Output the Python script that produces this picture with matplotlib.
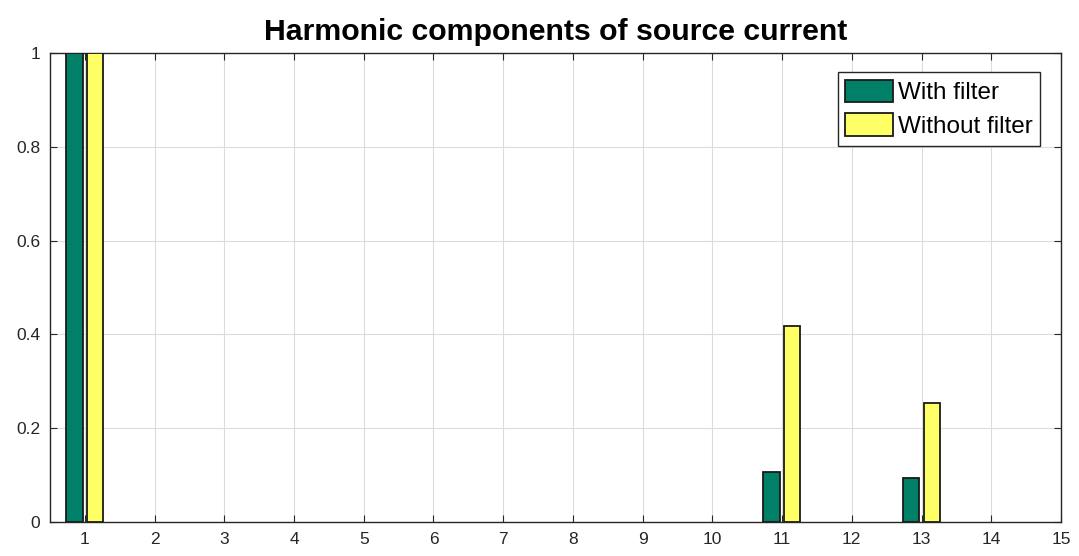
import numpy as np
import matplotlib.pyplot as plt

plt.rcParams["font.family"] = ["Liberation Sans", "DejaVu Sans"]

orders = np.arange(1, 16)
withFilter = [1.0, 0, 0, 0, 0, 0, 0, 0, 0, 0, 0.107, 0, 0.094, 0, 0]
withoutFilter = [1.0, 0, 0, 0, 0, 0, 0, 0, 0, 0, 0.418, 0, 0.253, 0, 0]
yticks = [0, 0.2, 0.4, 0.6, 0.8, 1]
yticklabels = ["0", "0.2", "0.4", "0.6", "0.8", "1"]


def plotDraw():
    fig = plt.figure(figsize=(10.79, 5.56), dpi=100)
    ax = fig.add_axes([0.0463, 0.0612, 0.937, 0.8435])

    # zero-height bars are not drawn (MATLAB shows nothing there)
    wf = np.array(withFilter, dtype=float)
    wof = np.array(withoutFilter, dtype=float)
    wf[wf == 0] = np.nan
    wof[wof == 0] = np.nan

    ax.bar(orders - 0.15, wf, width=0.235, color="#008066",
           edgecolor="#1a1a1a", linewidth=1.3, label="With filter", zorder=3)
    ax.bar(orders + 0.145, wof, width=0.23, color="#ffff66",
           edgecolor="#1a1a1a", linewidth=1.3, label="Without filter", zorder=3)

    ax.set_xlim(0.5, 15)
    ax.set_ylim(0, 1)
    ax.set_xticks(orders)
    ax.set_yticks(yticks)
    ax.set_yticklabels(yticklabels)
    ax.tick_params(direction="in", top=True, right=True, labelsize=12.5,
                   colors="#262626", length=5, pad=7)
    ax.grid(True, color="#dcdcdc", linewidth=0.8, zorder=0)
    for sp in ax.spines.values():
        sp.set_color("#262626")
        sp.set_linewidth(1.0)

    ax.set_title("Harmonic components of source current", fontsize=21.8,
                 fontweight="bold", pad=9)
    leg = ax.legend(loc="upper right", bbox_to_anchor=(0.9795, 0.96),
                    fontsize=17.5, fancybox=False, framealpha=1,
                    edgecolor="#262626", handlelength=1.95, handleheight=1.05,
                    handletextpad=0.2, borderpad=0.32, labelspacing=0.38,
                    borderaxespad=0)
    leg.get_frame().set_linewidth(1.0)

    fig.savefig("out.png", dpi=100)


if __name__ == "__main__":
    plotDraw()
